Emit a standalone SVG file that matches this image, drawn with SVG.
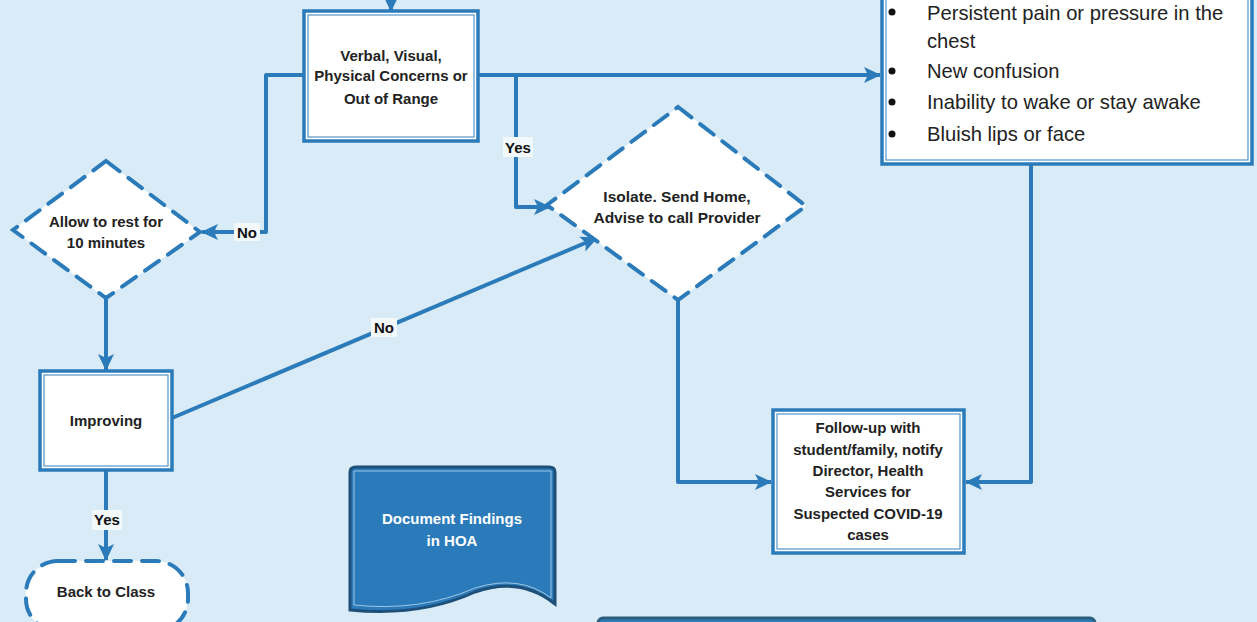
<svg xmlns="http://www.w3.org/2000/svg" width="1257" height="622" viewBox="0 0 1257 622">
<defs>
<marker id="arr" markerUnits="userSpaceOnUse" markerWidth="18" markerHeight="18" viewBox="0 0 18 18" refX="16" refY="9" orient="auto">
<path d="M0,1 L17,9 L0,17 L4,9 Z" fill="#2b7bba"/>
</marker>
<style>
.bg{fill:#d8ebf6}
.box{fill:#ffffff;stroke:#2b7bba;stroke-width:3.5}
.inner{fill:none;stroke:#2b7bba;stroke-width:1.2;opacity:0.8}
.dash{fill:#ffffff;stroke:#2b7bba;stroke-width:4;stroke-dasharray:17 11;stroke-linecap:round}
.conn{fill:none;stroke:#2b7bba;stroke-width:4;stroke-linejoin:round}
.lbl{font-family:"Liberation Sans",Arial,sans-serif;font-weight:bold;font-size:15px;fill:#222;text-anchor:middle}
.tag{font-family:"Liberation Sans",Arial,sans-serif;font-weight:bold;font-size:15px;fill:#111;text-anchor:middle}
.tagbg{fill:#f3f8fb}
.list{font-family:"Liberation Sans",Arial,sans-serif;font-size:20.2px;fill:#222}
.doc{font-family:"Liberation Sans",Arial,sans-serif;font-weight:bold;font-size:15px;fill:#ffffff;text-anchor:middle}
</style>
</defs>
<rect class="bg" x="0" y="0" width="1257" height="622"/>

<g id="connectors">
<path class="conn" d="M391,-5 L391,11" marker-end="url(#arr)"/>
<path class="conn" d="M478,75 L880,75" marker-end="url(#arr)"/>
<path class="conn" d="M516,75 L516,207 L548,207"/>
<path class="conn" d="M516,207 L550,207" marker-end="url(#arr)"/>
<path class="conn" d="M304,75 L266,75 L266,232 L202,232" marker-end="url(#arr)"/>
<path class="conn" d="M106,298 L106,370" marker-end="url(#arr)"/>
<path class="conn" d="M172,418 L597,238" marker-end="url(#arr)"/>
<path class="conn" d="M106,470 L106,560" marker-end="url(#arr)"/>
<path class="conn" d="M678,300 L678,482 L771,482" marker-end="url(#arr)"/>
<path class="conn" d="M1031,164 L1031,482 L966,482" marker-end="url(#arr)"/>
<rect class="tagbg" x="503" y="137" width="30" height="20"/>
<text class="tag" x="518" y="153">Yes</text>
<rect class="tagbg" x="234" y="223" width="26" height="18"/>
<text class="tag" x="247" y="238">No</text>
<rect class="tagbg" x="371" y="318" width="26" height="19"/>
<text class="tag" x="384" y="333">No</text>
<rect class="tagbg" x="92" y="510" width="30" height="20"/>
<text class="tag" x="107" y="525">Yes</text>
</g>

<g id="verbal">
<rect class="box" x="304" y="11" width="174" height="130"/>
<rect class="inner" x="308" y="15" width="166" height="122"/>
<text class="lbl" x="391" y="61">Verbal, Visual,</text>
<text class="lbl" x="391" y="81">Physical Concerns or</text>
<text class="lbl" x="391" y="104">Out of Range</text>
</g>

<g id="symptoms">
<rect class="box" x="882" y="-20" width="370" height="184"/>
<rect class="inner" x="886" y="-16" width="362" height="176"/>
<circle cx="892" cy="12" r="3.5" fill="#111"/>
<circle cx="892" cy="71" r="3.5" fill="#111"/>
<circle cx="892" cy="102" r="3.5" fill="#111"/>
<circle cx="892" cy="134" r="3.5" fill="#111"/>
<text class="list" x="927" y="20">Persistent pain or pressure in the</text>
<text class="list" x="927" y="48">chest</text>
<text class="list" x="927" y="78">New confusion</text>
<text class="list" x="927" y="109">Inability to wake or stay awake</text>
<text class="list" x="927" y="141">Bluish lips or face</text>
</g>

<g id="rest">
<polygon class="dash" points="106,161 200,232 106,298 13,230"/>
<text class="lbl" x="106" y="227">Allow to rest for</text>
<text class="lbl" x="106" y="248">10 minutes</text>
</g>

<g id="isolate">
<polygon class="dash" points="678,107 806,206 678,300 547,205"/>
<text class="lbl" x="677" y="202" style="font-size:15.5px">Isolate. Send Home,</text>
<text class="lbl" x="677" y="223" style="font-size:15.5px">Advise to call Provider</text>
</g>

<g id="improving">
<rect class="box" x="40" y="371" width="132" height="99"/>
<rect class="inner" x="44" y="375" width="124" height="91"/>
<text class="lbl" x="106" y="426">Improving</text>
</g>

<g id="back">
<rect class="dash" x="26" y="561" width="162" height="70" rx="32"/>
<text class="lbl" x="106" y="597">Back to Class</text>
</g>

<g id="document">
<path d="M350,472 Q350,467 356,467 L549,467 Q555,467 555,472 L555,604 Q520,576 475,592 Q420,617 350,610 Z" fill="#2b7bba" stroke="#1d4f78" stroke-width="3"/>
<path d="M354,471 L551,471 L551,598 Q520,574 475,588 Q420,612 354,605 Z" fill="none" stroke="#cfe4f2" stroke-width="1" opacity="0.7"/>
<text class="doc" x="452" y="524">Document Findings</text>
<text class="doc" x="452" y="546">in HOA</text>
</g>

<g id="followup">
<rect class="box" x="773" y="410" width="191" height="143"/>
<rect class="inner" x="777" y="414" width="183" height="135"/>
<text class="lbl" x="868" y="433">Follow-up with</text>
<text class="lbl" x="868" y="455">student/family, notify</text>
<text class="lbl" x="868" y="476">Director, Health</text>
<text class="lbl" x="868" y="497">Services for</text>
<text class="lbl" x="868" y="519">Suspected COVID-19</text>
<text class="lbl" x="868" y="540">cases</text>
</g>

<g id="bottom-box">
<rect x="598" y="618" width="497" height="20" rx="5" fill="#2b7bba" stroke="#2d5f7c" stroke-width="3"/>
</g>
</svg>
